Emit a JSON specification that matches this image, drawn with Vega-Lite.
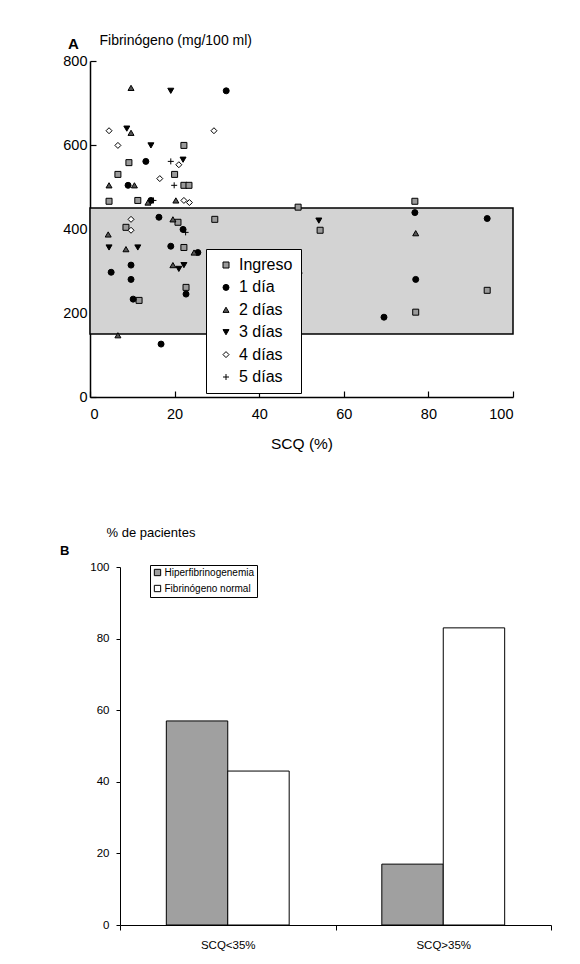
{
  "$schema": "https://vega.github.io/schema/vega-lite/v6.json",
  "background": "white",
  "padding": {"left": 60, "top": 33, "right": 0, "bottom": 0},
  "bounds": "flush",
  "spacing": 170,
  "resolve": {"scale": {"fill": "independent", "shape": "independent", "stroke": "independent"}, "legend": {"fill": "independent", "shape": "independent", "stroke": "independent"}},
  "config": {
    "font": "Liberation Sans",
    "view": {"stroke": null},
    "axis": {"domainColor": "black", "tickColor": "black", "labelColor": "black", "titleColor": "black", "grid": false, "labelFont": "Liberation Sans", "titleFont": "Liberation Sans"},
    "legend": {"labelFont": "Liberation Sans", "labelColor": "black"},
    "title": {"color": "black", "font": "Liberation Sans"}
  },
  "datasets": {
    "band": [{"x0": 0, "x1": 100, "lo": 150, "hi": 450}],
    "scatter": [
      {"scq": 22.2, "fib": 599, "dia": "Ingreso"},
      {"scq": 9.2, "fib": 558, "dia": "Ingreso"},
      {"scq": 6.6, "fib": 530, "dia": "Ingreso"},
      {"scq": 20.0, "fib": 530, "dia": "Ingreso"},
      {"scq": 4.5, "fib": 466, "dia": "Ingreso"},
      {"scq": 11.3, "fib": 468, "dia": "Ingreso"},
      {"scq": 22.2, "fib": 504, "dia": "Ingreso"},
      {"scq": 23.4, "fib": 504, "dia": "Ingreso"},
      {"scq": 8.5, "fib": 404, "dia": "Ingreso"},
      {"scq": 20.8, "fib": 416, "dia": "Ingreso"},
      {"scq": 22.2, "fib": 356, "dia": "Ingreso"},
      {"scq": 22.7, "fib": 261, "dia": "Ingreso"},
      {"scq": 11.6, "fib": 230, "dia": "Ingreso"},
      {"scq": 29.5, "fib": 423, "dia": "Ingreso"},
      {"scq": 54.4, "fib": 397, "dia": "Ingreso"},
      {"scq": 76.8, "fib": 466, "dia": "Ingreso"},
      {"scq": 93.9, "fib": 254, "dia": "Ingreso"},
      {"scq": 77.0, "fib": 202, "dia": "Ingreso"},
      {"scq": 49.2, "fib": 452, "dia": "Ingreso"},
      {"scq": 32.2, "fib": 729, "dia": "1 día"},
      {"scq": 13.2, "fib": 561, "dia": "1 día"},
      {"scq": 9.0, "fib": 504, "dia": "1 día"},
      {"scq": 14.4, "fib": 468, "dia": "1 día"},
      {"scq": 16.3, "fib": 428, "dia": "1 día"},
      {"scq": 22.0, "fib": 399, "dia": "1 día"},
      {"scq": 19.1, "fib": 359, "dia": "1 día"},
      {"scq": 5.0, "fib": 297, "dia": "1 día"},
      {"scq": 9.7, "fib": 314, "dia": "1 día"},
      {"scq": 9.7, "fib": 280, "dia": "1 día"},
      {"scq": 22.7, "fib": 245, "dia": "1 día"},
      {"scq": 10.2, "fib": 233, "dia": "1 día"},
      {"scq": 16.8, "fib": 126, "dia": "1 día"},
      {"scq": 76.8, "fib": 439, "dia": "1 día"},
      {"scq": 93.9, "fib": 425, "dia": "1 día"},
      {"scq": 77.0, "fib": 280, "dia": "1 día"},
      {"scq": 69.5, "fib": 190, "dia": "1 día"},
      {"scq": 49.4, "fib": 295, "dia": "1 día"},
      {"scq": 25.5, "fib": 344, "dia": "1 día"},
      {"scq": 9.7, "fib": 736, "dia": "2 días"},
      {"scq": 9.7, "fib": 629, "dia": "2 días"},
      {"scq": 4.5, "fib": 504, "dia": "2 días"},
      {"scq": 13.7, "fib": 463, "dia": "2 días"},
      {"scq": 20.3, "fib": 468, "dia": "2 días"},
      {"scq": 19.6, "fib": 423, "dia": "2 días"},
      {"scq": 4.3, "fib": 387, "dia": "2 días"},
      {"scq": 8.5, "fib": 352, "dia": "2 días"},
      {"scq": 24.6, "fib": 344, "dia": "2 días"},
      {"scq": 19.6, "fib": 314, "dia": "2 días"},
      {"scq": 6.6, "fib": 147, "dia": "2 días"},
      {"scq": 77.0, "fib": 390, "dia": "2 días"},
      {"scq": 10.5, "fib": 504, "dia": "2 días"},
      {"scq": 19.1, "fib": 729, "dia": "3 días"},
      {"scq": 8.7, "fib": 639, "dia": "3 días"},
      {"scq": 14.4, "fib": 599, "dia": "3 días"},
      {"scq": 22.0, "fib": 565, "dia": "3 días"},
      {"scq": 4.5, "fib": 356, "dia": "3 días"},
      {"scq": 11.3, "fib": 356, "dia": "3 días"},
      {"scq": 22.2, "fib": 314, "dia": "3 días"},
      {"scq": 54.1, "fib": 420, "dia": "3 días"},
      {"scq": 21.0, "fib": 305, "dia": "3 días"},
      {"scq": 4.5, "fib": 634, "dia": "4 días"},
      {"scq": 29.3, "fib": 634, "dia": "4 días"},
      {"scq": 6.6, "fib": 599, "dia": "4 días"},
      {"scq": 21.0, "fib": 553, "dia": "4 días"},
      {"scq": 16.5, "fib": 520, "dia": "4 días"},
      {"scq": 22.2, "fib": 468, "dia": "4 días"},
      {"scq": 9.7, "fib": 423, "dia": "4 días"},
      {"scq": 9.7, "fib": 397, "dia": "4 días"},
      {"scq": 23.5, "fib": 463, "dia": "4 días"},
      {"scq": 19.1, "fib": 561, "dia": "5 días"},
      {"scq": 19.9, "fib": 504, "dia": "5 días"},
      {"scq": 15.0, "fib": 468, "dia": "5 días"},
      {"scq": 22.6, "fib": 392, "dia": "5 días"}
    ],
    "bars": [
      {"grupo": "SCQ<35%", "tipo": "Hiperfibrinogenemia", "pct": 57},
      {"grupo": "SCQ<35%", "tipo": "Fibrinógeno normal", "pct": 43},
      {"grupo": "SCQ>35%", "tipo": "Hiperfibrinogenemia", "pct": 17},
      {"grupo": "SCQ>35%", "tipo": "Fibrinógeno normal", "pct": 83}
    ]
  },
  "vconcat": [
    {
      "width": 423,
      "height": 336,
      "title": {"text": "A", "anchor": "start", "frame": "group", "fontSize": 15, "fontWeight": "bold", "dx": -22, "dy": 23},
      "layer": [
        {
          "data": {"name": "band"},
          "mark": {"type": "rect", "fill": "#d3d3d3", "stroke": "black", "strokeWidth": 1.5},
          "encoding": {
            "x": {"field": "x0", "type": "quantitative", "scale": {"domain": [0, 100], "nice": false},
                  "axis": {"values": [0, 20, 40, 60, 80, 100], "title": "SCQ (%)", "titleFontSize": 15.5, "titleFontWeight": "normal", "titlePadding": 16, "labelFontSize": 14.5, "tickSize": -6, "tickWidth": 1.2, "labelPadding": 16, "domainWidth": 1.5}},
            "x2": {"field": "x1"},
            "y": {"field": "lo", "type": "quantitative", "scale": {"domain": [0, 800], "nice": false},
                  "axis": {"values": [0, 200, 400, 600, 800], "title": "Fibrinógeno (mg/100 ml)", "titleAngle": 0, "titleAlign": "left", "titleBaseline": "alphabetic", "titleX": 9, "titleY": -17, "titleFontSize": 14, "titleFontWeight": "normal", "labelFontSize": 14.5, "tickSize": -6, "tickWidth": 1.2, "labelPadding": 9, "domainWidth": 1.5}},
            "y2": {"field": "hi"}
          }
        },
        {
          "data": {"name": "scatter"},
          "mark": {"type": "point", "filled": true, "strokeWidth": 1, "size": 36, "opacity": 1},
          "encoding": {
            "x": {"field": "scq", "type": "quantitative"},
            "y": {"field": "fib", "type": "quantitative"},
            "shape": {"field": "dia", "type": "nominal",
                      "scale": {"domain": ["Ingreso", "1 día", "2 días", "3 días", "4 días", "5 días"], "range": ["square", "circle", "triangle-up", "triangle-down", "diamond", "M-1,0H1M0,-1V1"]},
                      "legend": {"title": null, "orient": "none", "legendX": 116, "legendY": 188, "fillColor": "white", "strokeColor": "black", "padding": 8, "labelFontSize": 16, "symbolSize": 36, "symbolOffset": 4, "symbolStrokeWidth": 1, "rowPadding": 6.4, "labelOffset": 5, "labelLimit": 0}},
            "fill": {"field": "dia", "type": "nominal",
                     "scale": {"domain": ["Ingreso", "1 día", "2 días", "3 días", "4 días", "5 días"], "range": ["#9a9a9a", "black", "#555555", "black", "white", "black"]},
                     "legend": {"title": null, "orient": "none", "legendX": 116, "legendY": 188, "fillColor": "white", "strokeColor": "black", "padding": 8, "labelFontSize": 16, "symbolSize": 36, "symbolOffset": 4, "symbolStrokeWidth": 1, "rowPadding": 6.4, "labelOffset": 5, "labelLimit": 0}},
            "stroke": {"field": "dia", "type": "nominal",
                     "scale": {"domain": ["Ingreso", "1 día", "2 días", "3 días", "4 días", "5 días"], "range": ["black", "black", "black", "black", "black", "black"]},
                     "legend": {"title": null, "orient": "none", "legendX": 116, "legendY": 188, "fillColor": "white", "strokeColor": "black", "padding": 8, "labelFontSize": 16, "symbolSize": 36, "symbolOffset": 4, "symbolStrokeWidth": 1, "rowPadding": 6.4, "labelOffset": 5, "labelLimit": 0}}
          }
        }
      ]
    },
    {
      "width": 461,
      "height": 358,
      "title": {"text": "B", "anchor": "start", "frame": "group", "fontSize": 13, "fontWeight": "bold", "dx": -30, "dy": 36},
      "data": {"name": "bars"},
      "mark": {"type": "bar", "stroke": "black", "strokeWidth": 1},
      "encoding": {
        "x": {"field": "grupo", "type": "nominal", "sort": ["SCQ<35%", "SCQ>35%"],
              "scale": {"range": [30, 461], "paddingInner": 0, "paddingOuter": 0},
              "axis": {"title": null, "labelAngle": 0, "labelFontSize": 11.5, "tickBand": "extent", "tickSize": 5, "labelPadding": 9}},
        "xOffset": {"field": "tipo", "type": "nominal", "sort": ["Hiperfibrinogenemia", "Fibrinógeno normal"],
                    "scale": {"paddingInner": 0, "paddingOuter": 0.754}},
        "y": {"field": "pct", "type": "quantitative", "scale": {"domain": [0, 100], "nice": false},
              "axis": {"values": [0, 20, 40, 60, 80, 100], "offset": -30, "title": "% de pacientes", "titleAngle": 0, "titleAlign": "left", "titleBaseline": "alphabetic", "titleX": -14, "titleY": -31, "titleFontSize": 13, "titleFontWeight": "normal", "labelFontSize": 11.5, "tickSize": 4, "labelPadding": 7}},
        "fill": {"field": "tipo", "type": "nominal",
                 "scale": {"domain": ["Hiperfibrinogenemia", "Fibrinógeno normal"], "range": ["#a0a0a0", "white"]},
                 "legend": {"title": null, "orient": "none", "legendX": 60, "legendY": -2, "fillColor": "white", "strokeColor": "black", "padding": 2.5, "labelFontSize": 10, "symbolType": "square", "symbolSize": 40, "symbolStrokeColor": "black", "symbolStrokeWidth": 1, "rowPadding": 4, "labelOffset": 2, "labelLimit": 0,
                            "encode": {"symbols": {"update": {"stroke": {"value": "black"}, "strokeWidth": {"value": 1}}}}}}
      }
    }
  ]
}
